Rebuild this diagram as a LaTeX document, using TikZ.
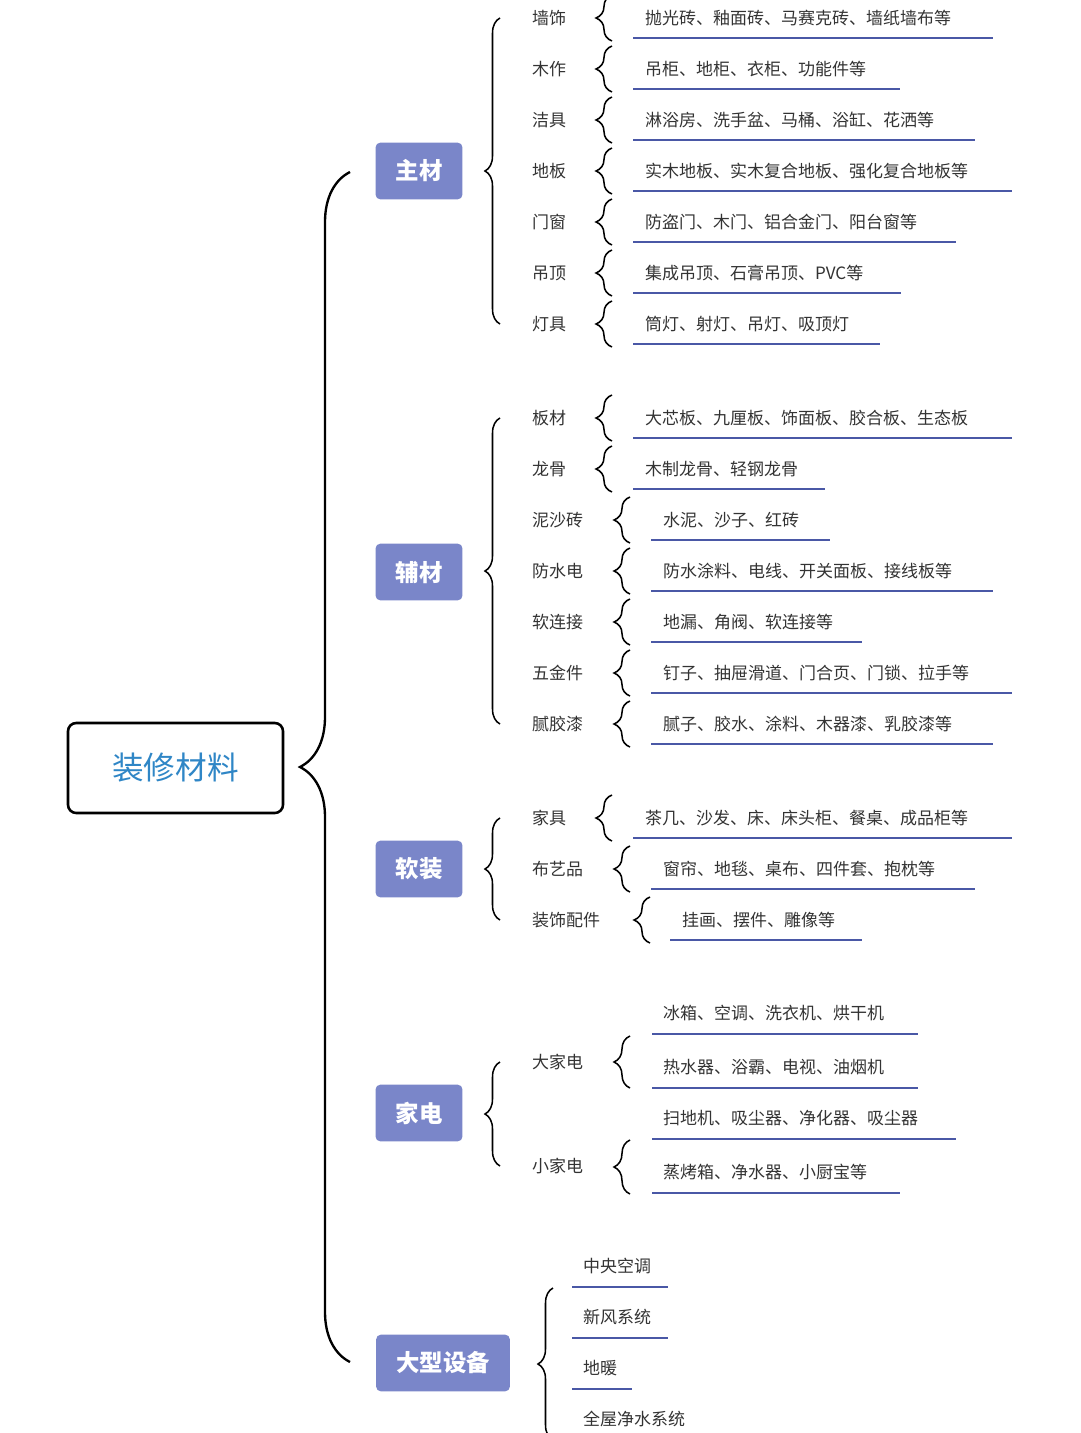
\documentclass[tikz,border=0pt]{standalone}
\usepackage{fontspec}
\setmainfont{Noto Sans CJK SC}
\usetikzlibrary{decorations.pathreplacing}
\definecolor{catblue}{HTML}{7A86C9}
\definecolor{rootblue}{HTML}{2F86C6}
\definecolor{lineblue}{HTML}{4A58A6}
\definecolor{txtgray}{HTML}{333333}
\tikzset{
  cat/.style={fill=catblue,rounded corners=4pt,text=white,font=\fontsize{20}{20}\selectfont\bfseries,minimum height=1.7cm,inner xsep=0.6cm},
  item/.style={text=txtgray,font=\fontsize{14.5}{15}\selectfont,anchor=west,inner sep=0pt},
  uline/.style={lineblue,line width=1.6pt},
  bigbrace/.style={decorate,decoration={brace,amplitude=1.5cm},line width=2pt},
  subbrace/.style={decorate,decoration={brace,amplitude=0.45cm},line width=1.3pt},
  smbrace/.style={decorate,decoration={brace,amplitude=0.48cm},line width=1.3pt}
}
\begin{document}
\begin{tikzpicture}[x=0.03cm,y=-0.03cm]
\useasboundingbox (0,0) rectangle (1080,1433);

% root
\node[draw,line width=2.2pt,rounded corners=7pt,minimum width=6.45cm,minimum height=2.7cm,
  text=rootblue,font=\fontsize{27}{27}\selectfont] (root) at (175.5,768) {装修材料};
\draw[bigbrace] (350,1362) -- (350,172);

% categories
\node[cat] (zhucai) at (419,171) {主材};
\node[cat] (fucai) at (419,572) {辅材};
\node[cat] (ruanzhuang) at (419,869) {软装};
\node[cat] (jiadian) at (419,1113) {家电};
\node[cat] (dashebei) at (443,1363) {大型设备};

\draw[subbrace] (500,324) -- (500,18);
\draw[subbrace] (500,724) -- (500,418);
\draw[subbrace] (500,920) -- (500,818);
\draw[subbrace] (500,1166) -- (500,1062);
\draw[subbrace] (553,1440) -- (553,1288);

% rows: y / label / brace x / leaf x / leaf / underline end
\foreach \y/\lab/\bx/\lx/\leaf/\ex [count=\i] in {
  18/墙饰/612/645/抛光砖、釉面砖、马赛克砖、墙纸墙布等/993,
  69/木作/612/645/吊柜、地柜、衣柜、功能件等/900,
  120/洁具/612/645/淋浴房、洗手盆、马桶、浴缸、花洒等/975,
  171/地板/612/645/实木地板、实木复合地板、强化复合地板等/1012,
  222/门窗/612/645/防盗门、木门、铝合金门、阳台窗等/956,
  273/吊顶/612/645/集成吊顶、石膏吊顶、PVC等/901,
  324/灯具/612/645/筒灯、射灯、吊灯、吸顶灯/880,
  418/板材/612/645/大芯板、九厘板、饰面板、胶合板、生态板/1012,
  469/龙骨/612/645/木制龙骨、轻钢龙骨/825,
  520/泥沙砖/630/663/水泥、沙子、红砖/830,
  571/防水电/630/663/防水涂料、电线、开关面板、接线板等/993,
  622/软连接/630/663/地漏、角阀、软连接等/862,
  673/五金件/630/663/钉子、抽屉滑道、门合页、门锁、拉手等/1012,
  724/腻胶漆/630/663/腻子、胶水、涂料、木器漆、乳胶漆等/993,
  818/家具/612/645/茶几、沙发、床、床头柜、餐桌、成品柜等/1012,
  869/布艺品/630/663/窗帘、地毯、桌布、四件套、抱枕等/975,
  920/装饰配件/650/682/挂画、摆件、雕像等/862} {
  \node[item] (lab\i) at (532,\y) {\lab};
  \draw[smbrace] (\bx,\y+23) -- (\bx,\y-23);
  \node[item] (leaf\i) at (\lx,\y) {\leaf};
  \draw[uline] (\lx-12,\y+20) -- (\ex,\y+20);
}

% appliances
\node[item] (dajiadian) at (532,1062) {大家电};
\node[item] (xiaojiadian) at (532,1166) {小家电};
\draw[smbrace] (630,1088) -- (630,1036);
\draw[smbrace] (630,1194) -- (630,1140);
\foreach \y/\leaf/\ex [count=\i] in {
  1013/冰箱、空调、洗衣机、烘干机/918,
  1067/热水器、浴霸、电视、油烟机/918,
  1118/扫地机、吸尘器、净化器、吸尘器/956,
  1172/蒸烤箱、净水器、小厨宝等/900} {
  \node[item] (jd\i) at (663,\y) {\leaf};
  \draw[uline] (652,\y+21) -- (\ex,\y+21);
}

% large equipment
\foreach \y/\leaf/\ex [count=\i] in {
  1266/中央空调/668, 1317/新风系统/668, 1368/地暖/632} {
  \node[item] (sb\i) at (583,\y) {\leaf};
  \draw[uline] (572,\y+21) -- (\ex,\y+21);
}
\node[item] (sb4) at (583,1419) {全屋净水系统};
\end{tikzpicture}
\end{document}
